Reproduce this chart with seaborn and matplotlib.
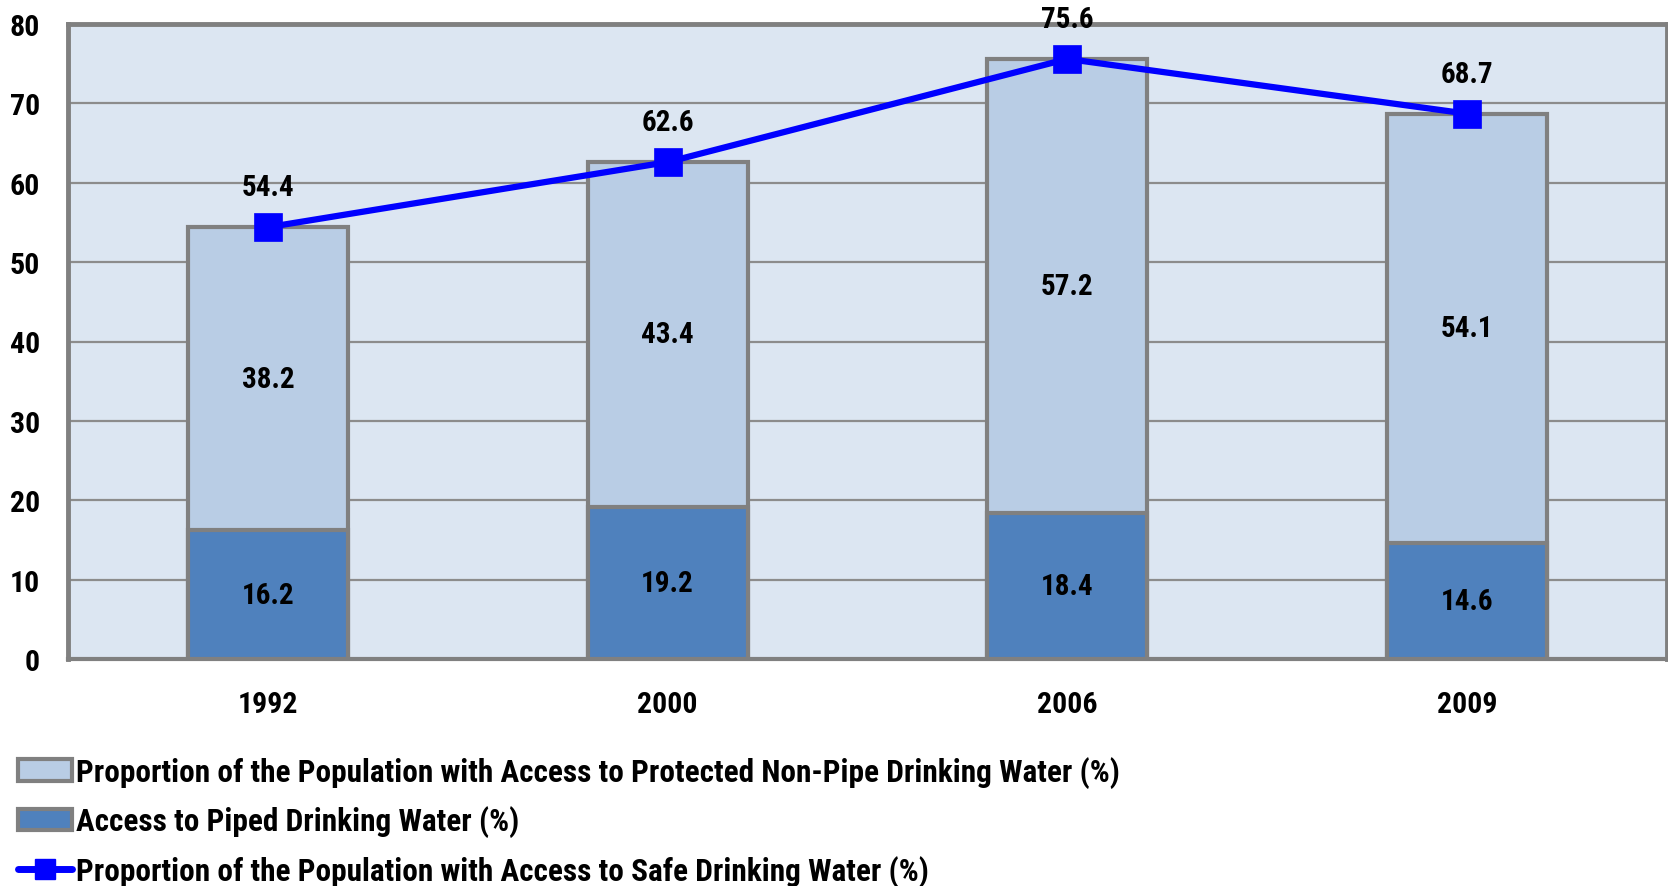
import matplotlib
matplotlib.use("Agg")
import matplotlib.pyplot as plt
from matplotlib.patches import Patch
from matplotlib.lines import Line2D
import seaborn as sns
import pandas as pd

# Data
years = ["1992", "2000", "2006", "2009"]
piped = [16.2, 19.2, 18.4, 14.6]
non_pipe = [38.2, 43.4, 57.2, 54.1]
safe_total = [54.4, 62.6, 75.6, 68.7]
y_ticks = [0, 10, 20, 30, 40, 50, 60, 70, 80]

label_nonpipe = "Proportion of the Population with Access to Protected Non-Pipe Drinking Water (%)"
label_piped = "Access to Piped Drinking Water (%)"
label_safe = "Proportion of the Population with Access to Safe Drinking Water (%)"

df = pd.DataFrame({"year": years, "piped": piped, "non_pipe": non_pipe, "total": safe_total})

sns.set_theme(style="white")
FONT = ["Roboto Condensed", "DejaVu Sans"]
plt.rcParams["font.family"] = FONT
plt.rcParams["font.weight"] = "bold"
plt.rcParams["text.color"] = "black"
plt.rcParams["xtick.color"] = "black"
plt.rcParams["ytick.color"] = "black"

LIGHT = "#B9CDE5"
DARK = "#4F81BD"
BG = "#DCE6F2"
EDGE = "#808080"
LINE = "#0000FF"
FS = 21
FS_TICK = 21.5
FS_LEG = 22.5

fig = plt.figure(figsize=(16.68, 8.87), dpi=100)
ax = fig.add_axes([68 / 1668, 1 - 660 / 887, 1599 / 1668, 635 / 887])
ax.set_facecolor(BG)

# Stacked bars: full height in light colour, piped share drawn over it
sns.barplot(data=df, x="year", y="total", color=LIGHT, saturation=1, width=0.4,
            edgecolor=EDGE, linewidth=3, ax=ax, zorder=3)
sns.barplot(data=df, x="year", y="piped", color=DARK, saturation=1, width=0.4,
            edgecolor=EDGE, linewidth=3, ax=ax, zorder=4)

# Total line with square markers
sns.pointplot(data=df, x="year", y="total", color=LINE, markers="s", markersize=17,
              linewidth=4.5, ax=ax, zorder=6)

# Value labels
for i in range(len(years)):
    ax.text(i, piped[i] / 2, f"{piped[i]:.1f}", ha="center", va="center",
            fontsize=FS, fontweight="bold", color="black", zorder=7)
    ax.text(i, piped[i] + non_pipe[i] / 2, f"{non_pipe[i]:.1f}", ha="center", va="center",
            fontsize=FS, fontweight="bold", color="black", zorder=7)
    ax.annotate(f"{safe_total[i]:.1f}", (i, safe_total[i]), xytext=(0, 40),
                textcoords="offset pixels", ha="center", va="center",
                fontsize=FS, fontweight="bold", color="black", zorder=7,
                annotation_clip=False)

ax.set_xlim(-0.5, 3.5)
ax.set_ylim(0, 80)
ax.set_yticks(y_ticks)
ax.set_yticklabels([str(t) for t in y_ticks], fontsize=FS_TICK, fontweight="bold")
ax.yaxis.grid(True, color="#8C8C8C", linewidth=1.6, zorder=0)
ax.set_axisbelow(True)

# Category labels centred, tick marks on category boundaries
ax.set_xticks(range(len(years)))
ax.set_xticklabels(years, fontsize=FS_TICK, fontweight="bold")
ax.tick_params(axis="x", which="major", length=0, pad=22)
ax.set_xticks([-0.5, 0.5, 1.5, 2.5, 3.5], minor=True)
ax.tick_params(axis="x", which="minor", length=8, width=1.5, color=EDGE, direction="out")
ax.tick_params(axis="y", length=8, width=1.5, color=EDGE, direction="out", pad=12)
ax.set_xlabel("")
ax.set_ylabel("")

for side in ["left", "top", "right"]:
    ax.spines[side].set_visible(True)
    ax.spines[side].set_color(EDGE)
    ax.spines[side].set_linewidth(3.5)
ax.spines["bottom"].set_color(EDGE)
ax.spines["bottom"].set_linewidth(3)

handles = [
    Patch(facecolor=LIGHT, edgecolor=EDGE, linewidth=3, label=label_nonpipe),
    Patch(facecolor=DARK, edgecolor=EDGE, linewidth=3, label=label_piped),
    Line2D([0], [0], color=LINE, linewidth=5, marker="s", markersize=15,
           solid_capstyle="round", label=label_safe),
]
fig.legend(handles=handles, loc="upper left", bbox_to_anchor=(2 / 1668, 1 - 741 / 887),
           frameon=False, handlelength=1.75, handleheight=0.7,
           handletextpad=0.12, labelspacing=0.575, borderpad=0,
           prop={"family": FONT, "weight": "bold", "size": FS_LEG})

fig.savefig("out.png", dpi=100)
